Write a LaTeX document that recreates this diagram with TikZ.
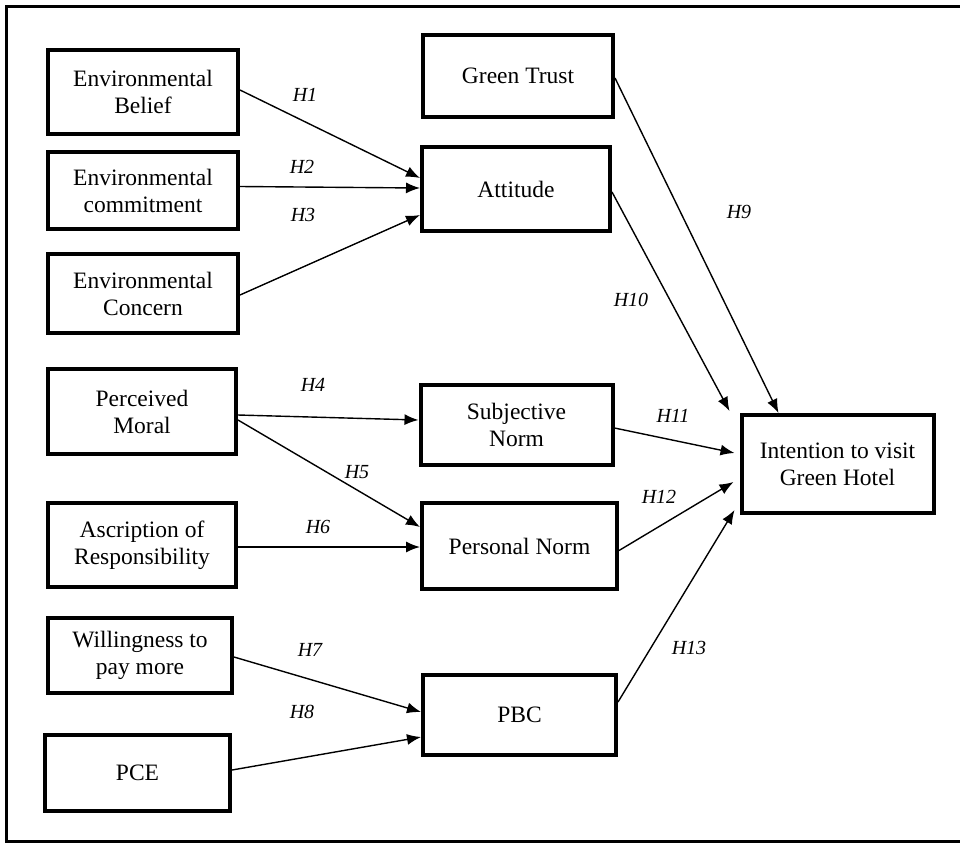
\documentclass[tikz,border=0pt]{standalone}
\usepackage{fontspec}
\setmainfont{Liberation Serif}
\usetikzlibrary{arrows.meta}
\begin{document}
\begin{tikzpicture}[x=1pt,y=-1pt,
  box/.style={draw, line width=4pt, rectangle, inner sep=0pt, align=center,
    font=\fontsize{23.5}{27}\selectfont},
  arr/.style={line width=1.4pt, -{Latex[length=14pt,width=11pt]}},
  hlab/.style={font=\fontsize{20}{22}\selectfont\itshape, inner sep=0pt}]
\useasboundingbox (0,0) rectangle (960,844);
\fill[white] (0,0) rectangle (960,844);
\draw[line width=3pt] (962,6) -- (6,6) -- (6,841) -- (962,841);

\node[box, minimum width=190pt, minimum height=84pt] (eb) at (143,92) {Environmental\\Belief};
\node[box, minimum width=190pt, minimum height=77pt] (ec) at (143,190.5) {Environmental\\commitment};
\node[box, minimum width=190pt, minimum height=79pt] (eco) at (143,293.5) {Environmental\\Concern};
\node[box, minimum width=188pt, minimum height=85pt] (pm) at (142,411.5) {Perceived\\Moral};
\node[box, minimum width=188pt, minimum height=84pt] (ar) at (142,545) {Ascription of\\Responsibility};
\node[box, minimum width=184pt, minimum height=75pt] (wp) at (140,655.5) {Willingness to\\pay more};
\node[box, minimum width=185pt, minimum height=76pt] (pce) at (137.5,773) {PCE};
\node[box, minimum width=190pt, minimum height=82pt] (gt) at (518,76) {Green Trust};
\node[box, minimum width=188pt, minimum height=84pt] (att) at (516,189) {Attitude};
\node[box, minimum width=192pt, minimum height=80pt] (sn) at (516.5,425) {Subjective\\Norm};
\node[box, minimum width=195pt, minimum height=86pt] (pn) at (519.5,546) {Personal Norm};
\node[box, minimum width=193pt, minimum height=80pt] (pbc) at (519.5,715) {PBC};
\node[box, minimum width=192pt, minimum height=98pt] (int) at (837.5,464) {Intention to visit\\Green Hotel};

\draw[arr] ([yshift=2pt]eb.east) -- ([yshift=11pt]att.west);
\draw[arr] ([yshift=4pt]ec.east) -- ([yshift=1pt]att.west);
\draw[arr] ([yshift=-1.5pt]eco.east) -- ([yshift=-26pt]att.west);
\draw[arr] ([yshift=-3.5pt]pm.east) -- ([yshift=5pt]sn.west);
\draw[arr] ([yshift=-8.5pt]pm.east) -- ([yshift=19pt]pn.west);
\draw[arr] ([yshift=-2pt]ar.east) -- ([yshift=-1pt]pn.west);
\draw[arr] ([yshift=-1.5pt]wp.east) -- ([yshift=3pt]pbc.west);
\draw[arr] ([yshift=3pt]pce.east) -- ([yshift=-22pt]pbc.west);
\draw[arr] ([yshift=-2pt]gt.east) -- ([xshift=-59pt]int.north);
\draw[arr] ([yshift=-3pt]att.east) -- ([xshift=-10pt,yshift=2pt]int.north west);
\draw[arr] ([yshift=-3pt]sn.east) -- ([xshift=-5pt,yshift=11pt]int.west);
\draw[arr] ([yshift=-4.5pt]pn.east) -- ([xshift=-6pt,yshift=-18pt]int.west);
\draw[arr] ([yshift=13pt]pbc.east) -- ([xshift=-5pt,yshift=-46pt]int.west);

\node[hlab] (h1) at (305,95) {H1};
\node[hlab] (h2) at (302,167) {H2};
\node[hlab] (h3) at (303,215) {H3};
\node[hlab] (h4) at (313,385) {H4};
\node[hlab] (h5) at (357,472) {H5};
\node[hlab] (h6) at (318,527) {H6};
\node[hlab] (h7) at (310,650) {H7};
\node[hlab] (h8) at (302,712) {H8};
\node[hlab] (h9) at (739,212) {H9};
\node[hlab] (h10) at (631,300) {H10};
\node[hlab] (h11) at (673,416) {H11};
\node[hlab] (h12) at (659,497) {H12};
\node[hlab] (h13) at (689,648) {H13};
\end{tikzpicture}
\end{document}
